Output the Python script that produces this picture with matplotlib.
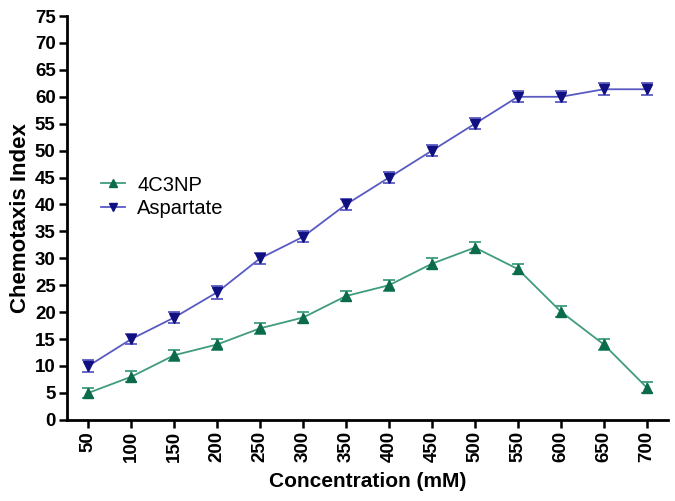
import matplotlib.pyplot as plt
from matplotlib.lines import Line2D

# podatki
konc = [50, 100, 150, 200, 250, 300, 350, 400, 450, 500, 550, 600, 650, 700]
np4c3 = [5, 8, 12, 14, 17, 19, 23, 25, 29, 32, 28, 20.1, 14, 6]
np4c3_err = [1, 1, 1, 1, 1, 1, 1, 1, 1, 1, 1, 1, 1, 1]
aspartat = [10, 15, 19, 23.7, 30, 34, 40, 45, 50, 55, 60, 60, 61.4, 61.4]
aspartat_err = [1.2, 1, 1, 1.2, 1, 1, 1, 1, 1, 1, 1, 1, 1.1, 1.1]

plt.rcParams['font.family'] = ['Liberation Sans', 'DejaVu Sans']

zelena_crta, zelena_tocka = '#3f9c7c', '#0b6b4a'
modra_crta, modra_tocka = '#5a5ac4', '#101080'

fig = plt.figure(figsize=(6.75, 5.01), dpi=100)
ax = fig.add_axes([0.099, 0.162, 0.891, 0.806])

ax.errorbar(konc, np4c3, yerr=np4c3_err, color=zelena_crta, lw=1.3, marker='^', ms=7,
            mfc=zelena_tocka, mec=zelena_tocka, ecolor=zelena_crta, elinewidth=1.2,
            capsize=4, capthick=1.3)
ax.errorbar(konc, aspartat, yerr=aspartat_err, color=modra_crta, lw=1.3, marker='v', ms=7,
            mfc=modra_tocka, mec=modra_tocka, ecolor=modra_crta, elinewidth=1.2,
            capsize=4, capthick=1.3)

ax.set_xlim(25, 725)
ax.set_ylim(0, 75)
ax.set_xticks(konc)
ax.set_xticklabels([str(k) for k in konc], rotation=90, fontweight='bold', fontsize=13.5)
ax.set_yticks(range(0, 80, 5))
ax.set_yticklabels([str(v) for v in range(0, 80, 5)], fontweight='bold', fontsize=13.5)
ax.tick_params(direction='out', length=6, width=1.8, pad=2)

for s in ['top', 'right']:
    ax.spines[s].set_visible(False)
for s in ['left', 'bottom']:
    ax.spines[s].set_linewidth(2)

ax.set_xlabel('Concentration (mM)', fontweight='bold', fontsize=15, labelpad=7)
ax.set_ylabel('Chemotaxis Index', fontweight='bold', fontsize=16, labelpad=3)

rocke = [Line2D([], [], color=zelena_crta, lw=1.3, marker='^', ms=6,
                mfc=zelena_tocka, mec=zelena_tocka),
         Line2D([], [], color=modra_crta, lw=1.3, marker='v', ms=6,
                mfc=modra_tocka, mec=modra_tocka)]
ax.legend(rocke, ['4C3NP', 'Aspartate'], loc='upper left', bbox_to_anchor=(0.057, 0.605),
          frameon=False, fontsize=14.5, handlelength=1.2, handletextpad=0.6,
          labelspacing=0.2, borderpad=0, borderaxespad=0)

fig.savefig('out.png', dpi=100)
